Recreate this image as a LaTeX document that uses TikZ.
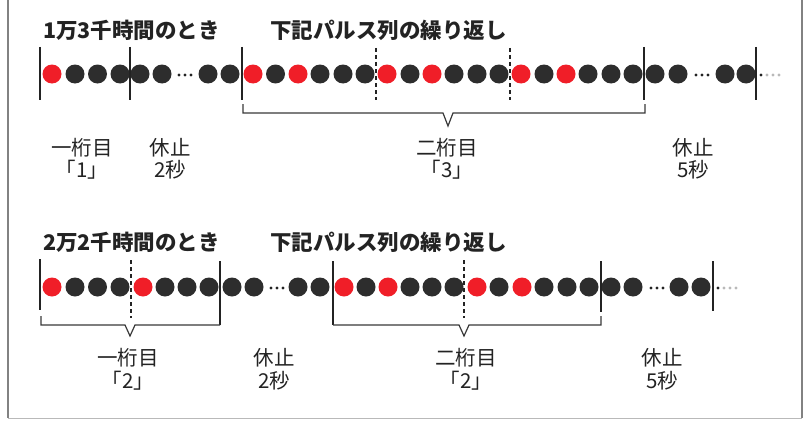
\documentclass[tikz,border=0pt]{standalone}
\usepackage{fontspec}
\newfontfamily\jp{Noto Sans CJK JP}
\definecolor{dotK}{RGB}{45,45,45}
\definecolor{dotR}{RGB}{240,30,40}
\definecolor{ink}{RGB}{35,35,35}
\definecolor{frame}{RGB}{130,130,130}
\definecolor{lite}{RGB}{185,185,185}
\tikzset{
  pulse/.style={circle,inner sep=0pt,minimum size=19pt,draw=none},
  vline/.style={line width=1.3pt,draw=ink},
  dline/.style={line width=1.3pt,draw=ink,dash pattern=on 4pt off 3pt},
  brace/.style={line width=1.2pt,draw=ink!90,line join=miter},
  title/.style={anchor=west,inner sep=0pt,text=ink,font=\jp\bfseries\fontsize{21.5}{21.5}\selectfont},
  lbl/.style={inner sep=0pt,text=ink,align=center,font=\jp\fontsize{20.5}{23}\selectfont},
  sdot/.style={circle,inner sep=0pt,minimum size=3.2pt,fill=ink},
  gdot/.style={circle,inner sep=0pt,minimum size=3.2pt,fill=lite}
}
\begin{document}
\begin{tikzpicture}[x=1pt,y=-1pt]
\useasboundingbox (0,0) rectangle (805,420);
\fill[white] (0,0) rectangle (805,420);
% frame
\draw[frame,line width=2pt] (8,0) -- (8,418);
\draw[frame,line width=2pt] (802,0) -- (802,418);
\draw[lite,line width=1pt] (8,418) -- (802,418);

% ---------- Row 1 ----------
\node[title] (t1a) at (43,30) {1万3千時間のとき};
\node[title] (t1b) at (270,30) {下記パルス列の繰り返し};

\foreach \x/\c [count=\i] in {52/R,75/K,97.5/K,120/K,
  140/K,162/K,208/K,230/K,
  253/R,275.5/K,298/R,320/K,343/K,365/K,
  387/R,410/K,432/R,454/K,477/K,499/K,
  521/R,544/K,566/R,588/K,611/K,633/K,
  655/K,678/K,725/K,746/K}
  \node[pulse,fill=dot\c] (a\i) at (\x,74) {};

\foreach \x in {40,130,242,644,756} \draw[vline] (\x,47) -- (\x,100);
\foreach \x in {376,510} \draw[dline] (\x,48) -- (\x,100);

\foreach \x [count=\i] in {179,185,191} \node[sdot] (ae\i) at (\x,75) {};
\foreach \x [count=\i] in {696,702,708} \node[sdot] (af\i) at (\x,75) {};
\node[sdot] (ag0) at (761,75) {};
\foreach \x [count=\i] in {767,773,779} \node[gdot] (ag\i) at (\x,75) {};

\draw[brace] (243,104) -- (243,113) -- (443,113) -- (448,126) -- (453,113) -- (645,113) -- (645,104);

\node[lbl] (l1a) at (82,148) {一桁目};
\node[lbl] (l1b) at (82,170) {「1」};
\node[lbl] (l1c) at (170,148) {休止};
\node[lbl] (l1d) at (170,170) {2秒};
\node[lbl] (l1e) at (447,148) {二桁目};
\node[lbl] (l1f) at (447,170) {「3」};
\node[lbl] (l1g) at (693,148) {休止};
\node[lbl] (l1h) at (693,170) {5秒};

% ---------- Row 2 ----------
\node[title] (t2a) at (43,242) {2万2千時間のとき};
\node[title] (t2b) at (270,242) {下記パルス列の繰り返し};

\foreach \x/\c [count=\i] in {52/R,75/K,97.5/K,120/K,
  143/R,165/K,187/K,209/K,
  232/K,254/K,298/K,320/K,
  344/R,366/K,388/R,410/K,432/K,454/K,
  477/R,499/K,522/R,544/K,567/K,589/K,
  611/K,633/K,679/K,701/K}
  \node[pulse,fill=dot\c] (b\i) at (\x,287) {};

\draw[vline] (40,259) -- (40,310);
\draw[vline] (220,261) -- (220,325);
\draw[vline] (333,261) -- (333,325);
\draw[vline] (601,261) -- (601,312);
\draw[vline] (713,261) -- (713,311);
\draw[dline] (131,260) -- (131,318);
\draw[dline] (464,260) -- (464,318);

\foreach \x [count=\i] in {271,277,283} \node[sdot] (be\i) at (\x,288) {};
\foreach \x [count=\i] in {651,657,663} \node[sdot] (bf\i) at (\x,288) {};
\node[sdot] (bg0) at (718,288) {};
\foreach \x [count=\i] in {724,730,736} \node[gdot] (bg\i) at (\x,288) {};

\draw[brace] (41,316) -- (41,325) -- (125,325) -- (130,336) -- (135,325) -- (220,325);
\draw[brace] (333,325) -- (459,325) -- (464,336) -- (469,325) -- (601,325) -- (601,316);

\node[lbl] (l2a) at (128,358) {一桁目};
\node[lbl] (l2b) at (128,381) {「2」};
\node[lbl] (l2c) at (274,358) {休止};
\node[lbl] (l2d) at (274,381) {2秒};
\node[lbl] (l2e) at (466,358) {二桁目};
\node[lbl] (l2f) at (466,381) {「2」};
\node[lbl] (l2g) at (662,358) {休止};
\node[lbl] (l2h) at (662,381) {5秒};
\end{tikzpicture}
\end{document}
